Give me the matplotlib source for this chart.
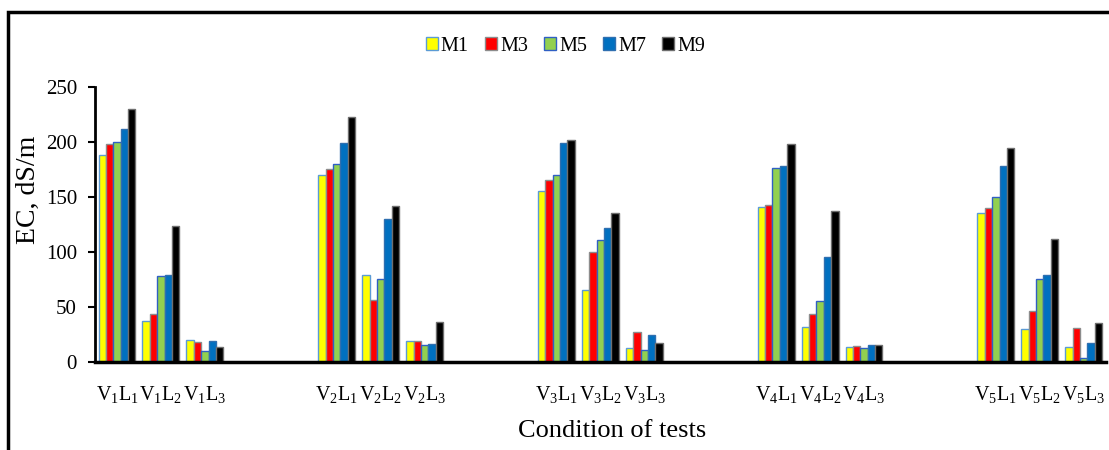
import numpy as np
import matplotlib.pyplot as plt
from matplotlib.patches import Rectangle

plt.rcParams['font.family'] = ['Liberation Serif', 'DejaVu Serif']
plt.rcParams['mathtext.fontset'] = 'custom'
plt.rcParams['mathtext.rm'] = 'Liberation Serif'
plt.rcParams['mathtext.it'] = 'Liberation Serif:italic'

# Умови випробувань (V1..V5, L1..L3)
categories = [r'V$_1$L$_1$', r'V$_1$L$_2$', r'V$_1$L$_3$',
              r'V$_2$L$_1$', r'V$_2$L$_2$', r'V$_2$L$_3$',
              r'V$_3$L$_1$', r'V$_3$L$_2$', r'V$_3$L$_3$',
              r'V$_4$L$_1$', r'V$_4$L$_2$', r'V$_4$L$_3$',
              r'V$_5$L$_1$', r'V$_5$L$_2$', r'V$_5$L$_3$']

series_names = ['M1', 'M3', 'M5', 'M7', 'M9']

m1 = [188, 37.5, 20, 170, 79, 19.4, 155.5, 65.5, 12.4, 141, 31.5, 13.3, 135, 29.7, 13.3]
m3 = [198, 43.6, 18, 175, 56, 19, 165.5, 99.7, 27, 142.4, 44, 14.5, 139.7, 46, 31]
m5 = [200, 78, 10, 180, 75, 15.5, 170, 111, 11, 176, 55.5, 12.4, 150, 75, 4]
m7 = [211.5, 79, 19, 199, 130, 16, 199, 122, 24.5, 178.5, 95, 15, 178.5, 79.4, 17]
m9 = [230, 124, 14, 223, 142, 36, 202, 135, 17.6, 198.5, 137.5, 15, 194.5, 111.5, 35]

values = [m1, m3, m5, m7, m9]
face_colors = ['#FFFF00', '#FF0000', '#92D050', '#0070C0', '#000000']
edge_colors = ['#5B9BD5', '#8C8C8C', '#2F5FC4', '#2F6FB0', '#6E6E6E']

# Позиції: по 3 умови в групі, між групами два порожні місця
x = np.array([g * 5 + k for g in range(5) for k in range(3)], dtype=float)
bar_w = 0.168

fig = plt.figure(figsize=(11.09, 4.5), dpi=100)
ax = fig.add_axes([0.0857, 0.1956, 0.9113, 0.6111])

for i, (name, vals) in enumerate(zip(series_names, values)):
    offs = (i - 2) * bar_w
    ax.bar(x + offs, vals, width=bar_w, color=face_colors[i],
           edgecolor=edge_colors[i], linewidth=1.0, label=name, zorder=2)

ax.set_xlim(-0.5, 22.5)
ax.set_ylim(0, 250)
ax.set_yticks(np.arange(0, 251, 50))
ax.set_xticks(x)
ax.set_xticklabels(categories, fontsize=14.5)

ax.tick_params(axis='x', length=0, pad=16)
ax.tick_params(axis='y', labelsize=15, length=5, width=1.5, direction='out', pad=8)

for s in ['top', 'right']:
    ax.spines[s].set_visible(False)
ax.spines['left'].set_linewidth(2)
ax.spines['bottom'].set_linewidth(2.5)

ax.set_ylabel('EC, dS/m', fontsize=20)
ax.yaxis.set_label_coords(-0.054, 0.625)
ax.set_xlabel('Condition of tests', fontsize=19)
ax.xaxis.set_label_coords(0.512, -0.212)

leg = fig.legend(loc='center', bbox_to_anchor=(0.51, 0.897), ncol=5, frameon=False,
                 fontsize=14.5, handlelength=0.6, handleheight=0.6,
                 handletextpad=0.15, columnspacing=0.8)

# Рамка навколо рисунка
fig.patches.append(Rectangle((8 / 1109, -0.05), 1.1, 1.05 - 12 / 450,
                             transform=fig.transFigure, fill=False,
                             edgecolor='black', linewidth=2.5, zorder=10))

fig.savefig('out.png', dpi=100)
